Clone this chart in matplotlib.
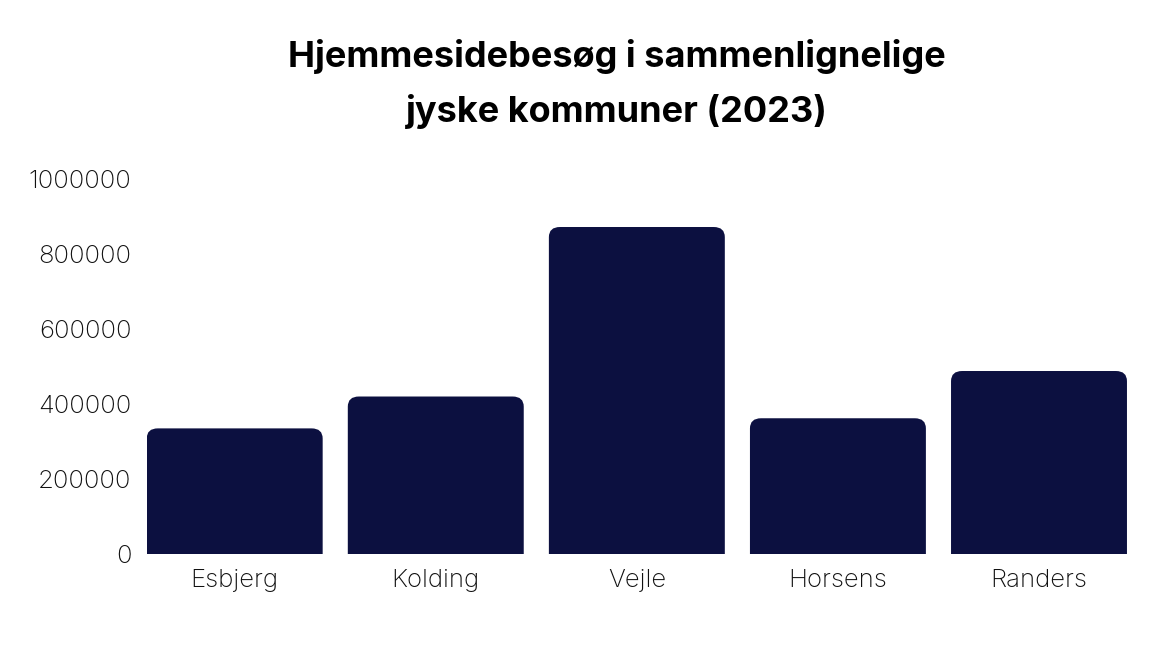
import matplotlib.pyplot as plt
from matplotlib.patches import FancyBboxPatch

# ── Data ──────────────────────────────────────────────
kommuner = ['Esbjerg', 'Kolding', 'Vejle', 'Horsens', 'Randers']
besoeg = [335000, 420000, 872000, 362000, 488000]
y_ticks = [0, 200000, 400000, 600000, 800000, 1000000]
titel = ["Hjemmesidebesøg i sammenlignelige", "jyske kommuner (2023)"]

BAR_COLOR = '#0c1040'
BAR_W = 0.875

plt.rcParams['font.family'] = ['Inter', 'DejaVu Sans']

fig = plt.figure(figsize=(11.71, 6.46), dpi=100)
ax = fig.add_axes([0.1253, 0.1424, 0.8371, 0.5805])

bars = ax.bar(range(len(kommuner)), besoeg, width=BAR_W, color=BAR_COLOR)

# afrundede hjørner øverst: erstat hver bar med en FancyBboxPatch
for b in bars:
    x, w, h = b.get_x(), b.get_width(), b.get_height()
    b.set_visible(False)
    r_x = 0.055            # radius i data-enheder (x)
    r_y = 27000            # radius i data-enheder (y)
    top = FancyBboxPatch((x, -r_y * 2), w, h + r_y * 2,
                         boxstyle=f"round,pad=0,rounding_size={r_x}",
                         mutation_aspect=r_y / r_x,
                         facecolor=BAR_COLOR, edgecolor='none')
    ax.add_patch(top)

ax.set_xlim(-BAR_W / 2, len(kommuner) - 1 + BAR_W / 2)
ax.set_ylim(0, 1000000)
ax.set_yticks(y_ticks)
ax.set_yticklabels([str(v) for v in y_ticks])
ax.set_xticks(range(len(kommuner)))
ax.set_xticklabels(kommuner)

for s in ax.spines.values():
    s.set_visible(False)
ax.tick_params(axis='both', length=0, labelsize=18.5, colors='#111111')
ax.tick_params(axis='y', pad=11)
ax.tick_params(axis='x', pad=11)
for lab in ax.get_xticklabels() + ax.get_yticklabels():
    lab.set_fontweight('light')

# titel i to linjer, hver placeret på sin grundlinje
for tekst, y in zip(titel, [0.8963, 0.8111]):
    fig.text(0.527, y, tekst, ha='center', va='baseline',
             fontsize=26, fontweight='bold', color='black')

plt.savefig('out.png', dpi=100)
